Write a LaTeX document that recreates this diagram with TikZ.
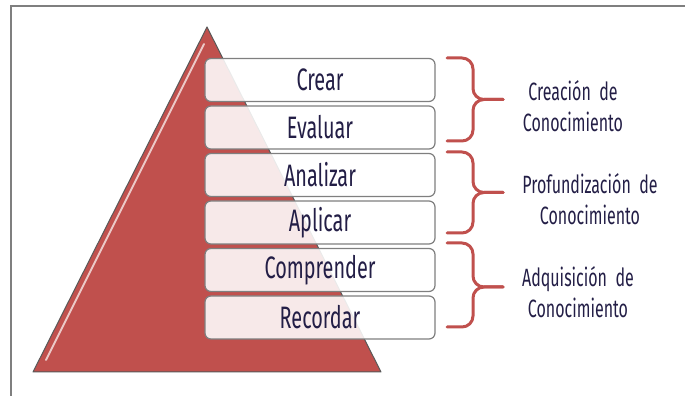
\documentclass[tikz,border=0pt]{standalone}
\usepackage{fontspec}
\newfontfamily\agency[FakeStretch=0.64]{Fira Sans}
\usetikzlibrary{positioning}
\definecolor{piramide}{RGB}{192,80,77}
\definecolor{texto}{RGB}{35,30,70}
\definecolor{borde}{RGB}{127,127,127}

\begin{document}
\begin{tikzpicture}[x=1pt,y=1pt,
    nivel/.style={draw=borde,line width=1.2pt,rounded corners=6pt,fill=white,fill opacity=0.88,text opacity=1,
        minimum width=230pt,minimum height=43pt,inner sep=0pt,text=texto,font=\agency\fontsize{31}{31}\selectfont},
    llave/.style={draw=piramide,line width=3pt,rounded corners=11pt,line cap=round},
    etiqueta/.style={align=center,text=texto,font=\agency\fontsize{25}{31}\selectfont}]
        \useasboundingbox (0,0) rectangle (685,396);
        % frame
        \draw[borde,line width=2pt] (685,390) -- (11,390) -- (11,0);
        % pyramid
        \draw[fill=piramide,draw=black!65,line width=1pt,line join=round] (207,369) -- (381,24) -- (33,24) -- cycle;
        \draw[white,opacity=0.7,line width=2pt,line cap=round] (204,352) -- (46,36);
        % levels
        \node[nivel] (crear) at (320,316) {Crear};
        \node[nivel,below=3.3pt of crear] (evaluar) {Evaluar};
        \node[nivel,below=3.3pt of evaluar] (analizar) {Analizar};
        \node[nivel,below=3.3pt of analizar] (aplicar) {Aplicar};
        \node[nivel,below=3.3pt of aplicar] (comprender) {Comprender};
        \node[nivel,below=3.3pt of comprender] (recordar) {Recordar};
        % braces
        \draw[llave] (447,338) -- (473,338) -- (473,296.5) -- (503,296.5);
        \draw[llave] (447,255) -- (473,255) -- (473,296.5) -- (503,296.5);
        \draw[llave] (447,244) -- (473,244) -- (473,203.5) -- (503,203.5);
        \draw[llave] (447,163) -- (473,163) -- (473,203.5) -- (503,203.5);
        \draw[llave] (447,153) -- (473,153) -- (473,109) -- (503,109);
        \draw[llave] (447,69) -- (473,69) -- (473,109) -- (503,109);
        % labels
        \node[etiqueta] (creacion) at (573,290) {Creación~~de\\Conocimiento};
        \node[etiqueta] (profundizacion) at (590,197) {Profundización~~de\\Conocimiento};
        \node[etiqueta] (adquisicion) at (578,104) {Adquisición~~de\\Conocimiento};
    \end{tikzpicture}
\end{document}
